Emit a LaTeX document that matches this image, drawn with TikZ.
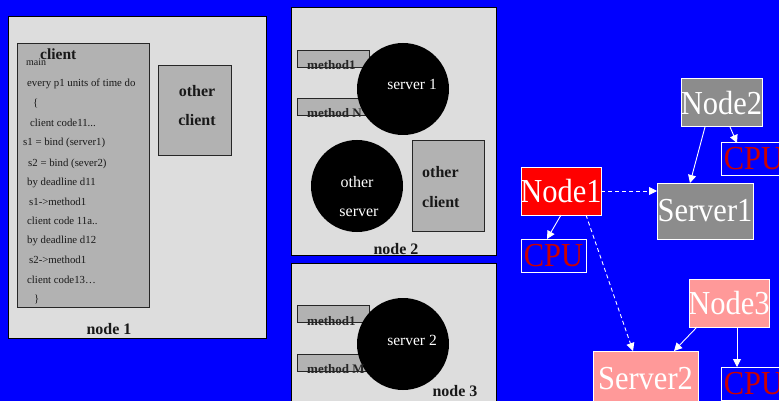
\documentclass[tikz,border=0pt]{standalone}
\usepackage{fontspec}
\setmainfont{Liberation Serif}
\usetikzlibrary{arrows.meta}
\definecolor{bgblue}{RGB}{0,0,255}
\definecolor{panelgray}{RGB}{221,221,221}
\definecolor{blockgray}{RGB}{178,178,178}
\definecolor{nodegray}{RGB}{140,140,140}
\definecolor{nodepink}{RGB}{255,153,153}
\definecolor{cpured}{RGB}{204,0,0}
\newcommand\fsz[1]{\fontsize{#1}{#1}\selectfont}
\newcommand\tallbox[1]{\scalebox{1}[1.1]{#1}}
\begin{document}
\begin{tikzpicture}[x=1pt,y=-1pt,
  rect/.style={line width=1pt, inner sep=0pt, outer sep=0pt, anchor=north west},
  frame/.style={rect, draw=black, fill=panelgray},
  block/.style={rect, draw=black!85, fill=blockgray},
  code/.style={anchor=base west, inner sep=0pt, font=\fsz{10.8}, text=black!90},
  title/.style={anchor=base, inner sep=0pt, font=\fsz{16}\bfseries, text=black!90},
  mtext/.style={anchor=base west, inner sep=0pt, font=\fsz{13}\bfseries, text=black!85},
  srv/.style={circle, fill=black, inner sep=0pt, outer sep=0pt, minimum size=92pt},
  wtext/.style={anchor=base, inner sep=0pt, font=\fsz{15.5}, text=white},
  gnode/.style={rect, draw=white},
  big/.style={font=\fsz{30.5}, text=white, inner sep=0pt},
  cputext/.style={font=\fsz{30.5}, text=cpured, inner sep=0pt},
  conn/.style={draw=white, line width=0.9pt, -{Triangle[length=8pt,width=8pt]}},
  dconn/.style={conn, dash pattern=on 4pt off 3pt}
]
\path[use as bounding box, fill=bgblue] (0,0) rectangle (779,401);
\begin{scope}
\clip (0,0) rectangle (779,401);

% ---- node 1 : the client machine ----
\node[frame, minimum width=258pt, minimum height=321pt] (node1) at (8,17) {};
\node[block, minimum width=132pt, minimum height=263pt] (client) at (17,44) {};
\node[block, minimum width=73pt, minimum height=90pt] (oclient1) at (158,66) {};
\node[anchor=base west, inner sep=0pt, font=\fsz{15.5}\bfseries, text=black!90] (clientlbl) at (40,60) {client};
\node[anchor=base west, inner sep=0pt, font=\fsz{10}, text=black!90] (mainlbl) at (26,66) {main};
\node[code] (c1)  at (27,87)    {every p1 units of time do};
\node[code] (c2)  at (33,107)   {\{};
\node[code] (c3)  at (30,127)   {client code11...};
\node[code] (c4)  at (23,146)   {s1 = bind (server1)};
\node[code] (c5)  at (28,166)   {s2 = bind (sever2)};
\node[code] (c6)  at (27,185)   {by deadline d11};
\node[code] (c7)  at (29,205)   {s1->method1};
\node[code] (c8)  at (27,224.5) {client code 11a..};
\node[code] (c9)  at (27,243)   {by deadline d12};
\node[code] (c10) at (29,263)   {s2->method1};
\node[code] (c11) at (27,283)   {client code13…};
\node[code] (c12) at (34,302)   {\}};
\node[title] (oc1a) at (197,97)  {other};
\node[title] (oc1b) at (197,126) {client};
\node[title] (n1lbl) at (109,334) {node 1};

% ---- node 2 : server 1 and others ----
\node[frame, minimum width=205pt, minimum height=247pt] (node2) at (291,8) {};
\node[block, minimum width=72pt, minimum height=17pt] (m21) at (297,51) {};
\node[block, minimum width=72pt, minimum height=17pt] (m2n) at (297,99) {};
\node[srv] (server1) at (403,89) {};
\node[mtext] (m21t) at (307,70)  {method1};
\node[mtext] (m2nt) at (307,118) {method N};
\node[wtext] (s1t) at (412,90) {server 1};
\node[srv] (oserver) at (357,186) {};
\node[wtext, font=\fsz{16}] (ost1) at (357,187) {other};
\node[wtext, font=\fsz{16}] (ost2) at (359,216) {server};
\node[block, minimum width=72pt, minimum height=90pt] (oclient2) at (412,141) {};
\node[title, anchor=base west] (oc2a) at (422,178) {other};
\node[title, anchor=base west] (oc2b) at (422,207) {client};
\node[title] (n2lbl) at (396,254) {node 2};

% ---- node 3 : server 2 ----
\node[frame, minimum width=205pt, minimum height=150pt] (node3) at (291,263) {};
\node[block, minimum width=72pt, minimum height=17pt] (m31) at (297,305) {};
\node[block, minimum width=72pt, minimum height=17pt] (m3m) at (297,354) {};
\node[srv] (server2) at (403,344) {};
\node[mtext] (m31t) at (307,325) {method1};
\node[mtext] (m3mt) at (307,373) {method M};
\node[wtext] (s2t) at (412,345) {server 2};
\node[title] (n3lbl) at (455,396) {node 3};

% ---- deployment graph ----
\node[gnode, fill=red, minimum width=80pt, minimum height=48pt,
      label={[big]center:\tallbox{Node1}}] (gn1) at (521,167) {};
\node[gnode, fill=bgblue, minimum width=65pt, minimum height=33pt,
      label={[cputext]center:\tallbox{CPU}}] (cpu1) at (521,239) {};
\node[gnode, fill=nodegray, minimum width=81pt, minimum height=48pt,
      label={[big]center:\tallbox{Node2}}] (gn2) at (681,79) {};
\node[gnode, fill=bgblue, minimum width=65pt, minimum height=32pt,
      label={[cputext]center:\tallbox{CPU}}] (cpu2) at (721,143) {};
\node[gnode, fill=nodegray, minimum width=96pt, minimum height=56pt,
      label={[big]center:\tallbox{Server1}}] (gs1) at (657,183) {};
\node[gnode, fill=nodepink, minimum width=80pt, minimum height=48pt,
      label={[big]center:\tallbox{Node3}}] (gn3) at (689,279) {};
\node[gnode, fill=nodepink, minimum width=105pt, minimum height=56pt,
      label={[big]center:\tallbox{Server2}}] (gs2) at (593,351) {};
\node[gnode, fill=bgblue, minimum width=65pt, minimum height=33pt,
      label={[cputext]center:\tallbox{CPU}}] (cpu3) at (721,367) {};

\draw[conn]  ([xshift=40pt]gn1.south west) -- ([xshift=26pt]cpu1.north west);
\draw[dconn] (gn1.east) -- (gn1.east -| gs1.west);
\draw[dconn] ([xshift=65pt]gn1.south west) -- ([xshift=40pt]gs2.north west);
\draw[conn]  ([xshift=24pt]gn2.south west) -- ([xshift=33pt]gs1.north west);
\draw[conn]  ([xshift=49pt]gn2.south west) -- ([xshift=16pt]cpu2.north west);
\draw[conn]  ([xshift=8pt]gn3.south west) -- ([xshift=81pt]gs2.north west);
\draw[conn]  ([xshift=48pt]gn3.south west) -- ([xshift=16pt]cpu3.north west);
\end{scope}
\end{tikzpicture}
\end{document}
